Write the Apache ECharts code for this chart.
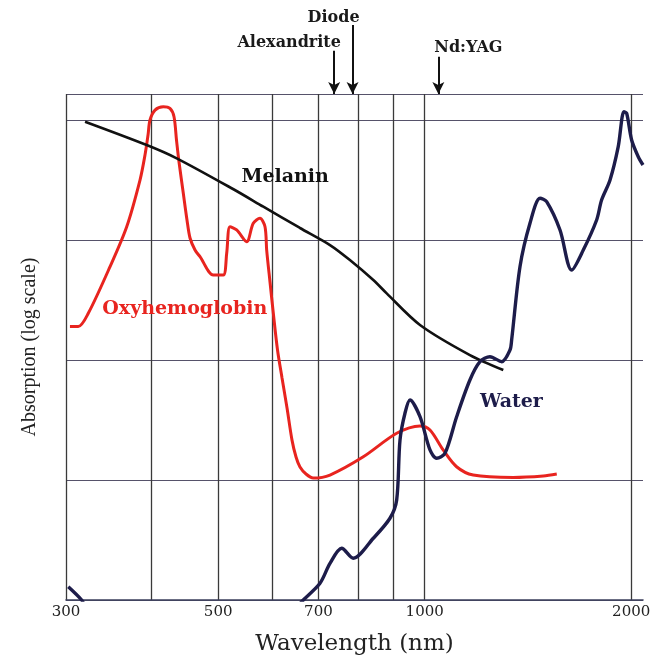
<!DOCTYPE html>
<html><head><meta charset="utf-8">
<script src="https://cdn.jsdelivr.net/npm/echarts@6/dist/echarts.min.js"></script>
<style>html,body{margin:0;padding:0;background:#fff}#c{width:662px;height:656px}</style>
</head><body><div id="c"></div>
<script>
// ---- data (wavelength in nm, absorption in arbitrary log units) ----
const gridWavelengths = [300, 400, 500, 600, 700, 800, 900, 1000, 2000];
const tickLabels = [300, 500, 700, 1000, 2000];

const oxyhemoglobin = [
  [304,190],[312.6,190],[323.3,245],[347.8,600],[367.8,1290],[384.6,3160],[391.1,5110],
  [395.1,7500],[397.7,10000],[404.5,12100],[415.9,12900],[425.3,12500],[431.1,10650],
  [434.7,6813],[438.4,4467],[444.7,2464],[450.3,1468],[454.9,1039],[462.6,825],[470.4,726],
  [491.9,511],[508.6,511],[514.5,775],[520.2,1290],[532,1212],[550.2,968],[562.5,1378],
  [575.3,1516],[585.1,1291],[588.4,825],[595,446.7],[601.6,246.4],[610.2,121.2],[619.5,70.8],
  [630,39.8],[640.6,21.5],[649.3,15.55],[658,12.83],[671.4,11.22],[688,10.39],[727.7,11.0],
  [813.8,15.6],[910.3,24.5],[984.4,28.2],[1018,26.1],[1064,17.8],[1113,12.9],[1177,11.0],
  [1346,10.5],[1489,10.8],[1558,11.2]
];
const melanin = [
  [319.8,9683],[393.3,6190],[435,4797],[525.5,2661],[581.8,1895],[658,1259],[727.7,908],
  [778,681],[841.6,464],[880.3,359],[984.4,196],[1164,110],[1302,82.5]
];
const water = [
  [302.3,1.29],[316.2,1.0],[319,0.9],[500,null],
  [655,0.9],[665.3,1.0],[703.7,1.38],[727.7,2.02],[756.9,2.70],[786.9,2.23],[841.6,3.27],
  [890,4.80],[910.3,6.81],[920.5,21.5],[936,36.0],[951.9,46.4],[984.4,33.7],[1018,17.8],
  [1041,15.2],[1070.6,16.7],[1113.3,33.7],[1164,68.1],[1204,96.8],[1245,106.5],[1295,96.8],
  [1331.5,121],[1339,147],[1377,599],[1424,1378],[1473,2226],[1506,2085],[1575,1212],
  [1638,562],[1703,825],[1781,1468],[1811,2154],[1863,3162],[1915,5993],[1952,11728],
  [1970,11370],[2003,6813],[2048,4945],[2081,4217]
];
const laserNames = ['Alexandrite', 'Diode', 'Nd:YAG'];
const laserWavelengths = [738, 785, 1047];

// ---- layout / style config ----
const X_MIN = 300, X_MAX = 2081, Y_MIN = 1, Y_MAX = 16470;
const arrowTop = { 'Alexandrite': 50.7, 'Diode': 25, 'Nd:YAG': 56.7 };
const laserLabelOffset = { 'Alexandrite': [-45, -8], 'Diode': [-19, -7], 'Nd:YAG': [30, -9] };
const serif = 'DejaVu Serif';

function seriesLabel(text, coord, color) {
  return {
    symbol: 'circle', symbolSize: 0, silent: true, animation: false,
    itemStyle: { opacity: 1 },
    data: [{ coord: coord, value: text }],
    label: { show: true, position: 'inside', formatter: text, color: color,
             fontFamily: serif, fontWeight: 'bold', fontSize: 19 }
  };
}

const chart = echarts.init(document.getElementById('c'), null, { renderer: 'canvas' });
chart.setOption({
  animation: false,
  backgroundColor: '#ffffff',
  grid: [
    { left: 66, top: 94, width: 577, height: 506, outerBoundsMode: 'none' },
    { left: 66, top: 0, width: 577, height: 94, outerBoundsMode: 'none' }
  ],
  xAxis: [
    {
      type: 'log', gridIndex: 0, min: X_MIN, max: X_MAX,
      axisLine: { show: true, lineStyle: { color: '#3b3f5c', width: 1.6 } },
      axisTick: { show: false, customValues: gridWavelengths },
      axisLabel: { customValues: tickLabels, formatter: v => String(Math.round(v)),
                   fontFamily: serif, fontSize: 15, color: '#222', margin: 5 },
      splitLine: { show: true, lineStyle: { color: '#3a3a3a', width: 1.3 } },
      name: 'Wavelength (nm)', nameLocation: 'middle', nameGap: 33,
      nameTextStyle: { fontFamily: serif, fontSize: 23, color: '#222' }
    },
    {
      type: 'log', gridIndex: 1, min: X_MIN, max: X_MAX,
      axisLine: { show: false }, axisTick: { show: false },
      axisLabel: { show: false }, splitLine: { show: false }
    }
  ],
  yAxis: [
    {
      type: 'log', gridIndex: 0, min: Y_MIN, max: Y_MAX,
      axisLine: { show: false }, axisTick: { show: false }, axisLabel: { show: false },
      splitLine: { show: true, lineStyle: { color: '#56526a', width: 1.2 } },
      name: 'Absorption (log scale)', nameLocation: 'middle', nameGap: 26,
      nameTextStyle: { fontFamily: 'Liberation Serif', fontSize: 20, color: '#222' }
    },
    {
      type: 'value', gridIndex: 1, min: 0, max: 94, inverse: true, show: false
    }
  ],
  series: [
    {
      name: 'Oxyhemoglobin', type: 'line', xAxisIndex: 0, yAxisIndex: 0,
      data: oxyhemoglobin, smooth: 0.3, showSymbol: false, silent: true,
      lineStyle: { color: '#e8241f', width: 3 },
      markPoint: seriesLabel('Oxyhemoglobin', [447, 266], '#e8241f')
    },
    {
      name: 'Melanin', type: 'line', xAxisIndex: 0, yAxisIndex: 0,
      data: melanin, smooth: 0.3, showSymbol: false, silent: true,
      lineStyle: { color: '#111111', width: 2.6 },
      markPoint: seriesLabel('Melanin', [626, 3350], '#111111')
    },
    {
      name: 'Water', type: 'line', xAxisIndex: 0, yAxisIndex: 0,
      data: water, smooth: 0.3, showSymbol: false, silent: true, connectNulls: false,
      lineStyle: { color: '#1d1c4a', width: 3.4 },
      markPoint: seriesLabel('Water', [1338, 44.7], '#1d1c4a')
    },
    {
      name: 'Lasers', type: 'scatter', xAxisIndex: 1, yAxisIndex: 1,
      symbolSize: 0, silent: true,
      itemStyle: { opacity: 1 },
      data: laserNames.map((n, i) => ({
        name: n, value: [laserWavelengths[i], arrowTop[n]],
        label: { offset: laserLabelOffset[n] }
      })),
      label: { show: true, position: 'inside', formatter: '{b}', color: '#1a1a1a', opacity: 1,
               fontFamily: serif, fontWeight: 'bold', fontSize: 16 },
      markLine: {
        silent: true, symbol: ['none', 'arrow'], symbolSize: [9, 12],
        label: { show: false },
        lineStyle: { color: '#111', width: 2, type: 'solid', opacity: 1 },
        data: laserNames.map((n, i) => [
          { coord: [laserWavelengths[i], arrowTop[n]] },
          { coord: [laserWavelengths[i], 94] }
        ])
      }
    }
  ]
});
</script>
</body></html>
